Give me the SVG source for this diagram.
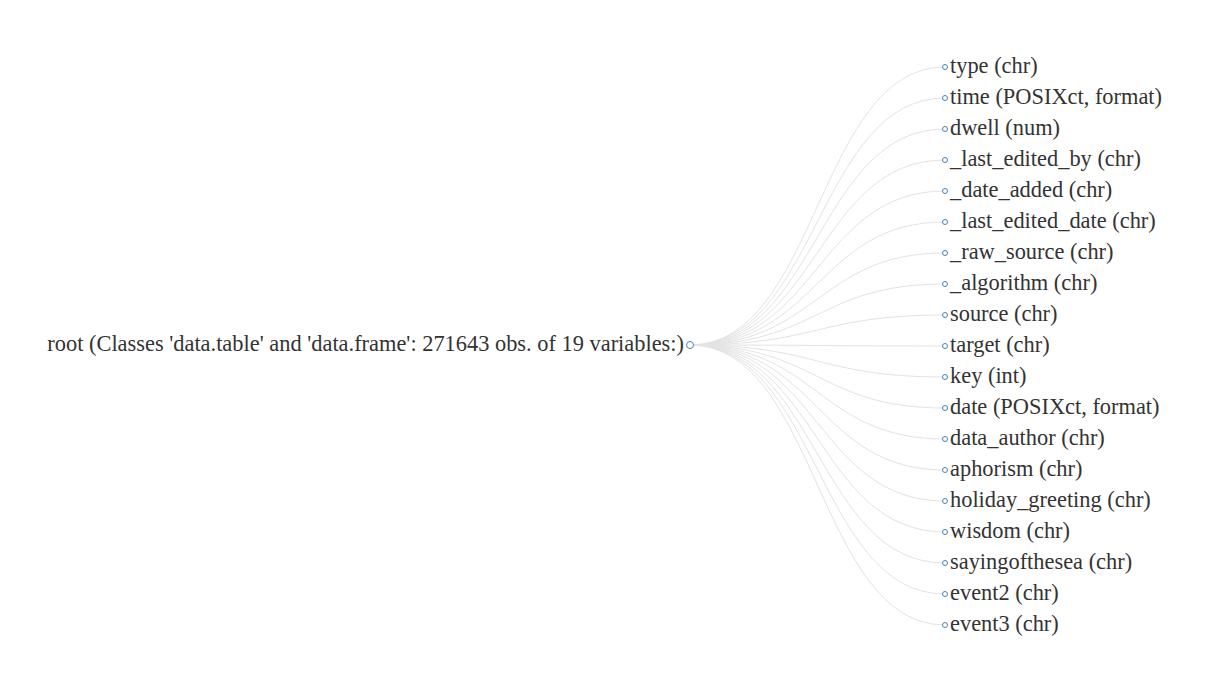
<svg xmlns="http://www.w3.org/2000/svg" width="1210" height="677" viewBox="0 0 1210 677">
<style>
.link{fill:none;stroke:#e3e3e3;stroke-width:1}
.node circle{fill:#fff;stroke:#4682b4;stroke-width:1}
.node text{font-family:"Liberation Serif","Times New Roman",serif;font-size:22.4px;fill:#333}
</style>
<rect width="1210" height="677" fill="#fff"/>
<g id="links">
<path class="link" d="M690,345C817.5,345 817.5,67 945,67"/>
<path class="link" d="M690,345C817.5,345 817.5,98 945,98"/>
<path class="link" d="M690,345C817.5,345 817.5,129 945,129"/>
<path class="link" d="M690,345C817.5,345 817.5,160 945,160"/>
<path class="link" d="M690,345C817.5,345 817.5,191 945,191"/>
<path class="link" d="M690,345C817.5,345 817.5,222 945,222"/>
<path class="link" d="M690,345C817.5,345 817.5,253 945,253"/>
<path class="link" d="M690,345C817.5,345 817.5,284 945,284"/>
<path class="link" d="M690,345C817.5,345 817.5,315 945,315"/>
<path class="link" d="M690,345C817.5,345 817.5,346 945,346"/>
<path class="link" d="M690,345C817.5,345 817.5,377 945,377"/>
<path class="link" d="M690,345C817.5,345 817.5,408 945,408"/>
<path class="link" d="M690,345C817.5,345 817.5,439 945,439"/>
<path class="link" d="M690,345C817.5,345 817.5,470 945,470"/>
<path class="link" d="M690,345C817.5,345 817.5,501 945,501"/>
<path class="link" d="M690,345C817.5,345 817.5,532 945,532"/>
<path class="link" d="M690,345C817.5,345 817.5,563 945,563"/>
<path class="link" d="M690,345C817.5,345 817.5,594 945,594"/>
<path class="link" d="M690,345C817.5,345 817.5,625 945,625"/>
</g>
<g id="root" class="node" transform="translate(690,345)"><circle r="3.5"/><text x="-6" dy="0.28em" text-anchor="end">root (Classes 'data.table' and 'data.frame': 271643 obs. of 19 variables:)</text></g>
<g id="n1" class="node" transform="translate(945,67)"><circle r="2.5"/><text x="5" dy="0.28em">type (chr)</text></g>
<g id="n2" class="node" transform="translate(945,98)"><circle r="2.5"/><text x="5" dy="0.28em">time (POSIXct, format)</text></g>
<g id="n3" class="node" transform="translate(945,129)"><circle r="2.5"/><text x="5" dy="0.28em">dwell (num)</text></g>
<g id="n4" class="node" transform="translate(945,160)"><circle r="2.5"/><text x="5" dy="0.28em">_last_edited_by (chr)</text></g>
<g id="n5" class="node" transform="translate(945,191)"><circle r="2.5"/><text x="5" dy="0.28em">_date_added (chr)</text></g>
<g id="n6" class="node" transform="translate(945,222)"><circle r="2.5"/><text x="5" dy="0.28em">_last_edited_date (chr)</text></g>
<g id="n7" class="node" transform="translate(945,253)"><circle r="2.5"/><text x="5" dy="0.28em">_raw_source (chr)</text></g>
<g id="n8" class="node" transform="translate(945,284)"><circle r="2.5"/><text x="5" dy="0.28em">_algorithm (chr)</text></g>
<g id="n9" class="node" transform="translate(945,315)"><circle r="2.5"/><text x="5" dy="0.28em">source (chr)</text></g>
<g id="n10" class="node" transform="translate(945,346)"><circle r="2.5"/><text x="5" dy="0.28em">target (chr)</text></g>
<g id="n11" class="node" transform="translate(945,377)"><circle r="2.5"/><text x="5" dy="0.28em">key (int)</text></g>
<g id="n12" class="node" transform="translate(945,408)"><circle r="2.5"/><text x="5" dy="0.28em">date (POSIXct, format)</text></g>
<g id="n13" class="node" transform="translate(945,439)"><circle r="2.5"/><text x="5" dy="0.28em">data_author (chr)</text></g>
<g id="n14" class="node" transform="translate(945,470)"><circle r="2.5"/><text x="5" dy="0.28em">aphorism (chr)</text></g>
<g id="n15" class="node" transform="translate(945,501)"><circle r="2.5"/><text x="5" dy="0.28em">holiday_greeting (chr)</text></g>
<g id="n16" class="node" transform="translate(945,532)"><circle r="2.5"/><text x="5" dy="0.28em">wisdom (chr)</text></g>
<g id="n17" class="node" transform="translate(945,563)"><circle r="2.5"/><text x="5" dy="0.28em">sayingofthesea (chr)</text></g>
<g id="n18" class="node" transform="translate(945,594)"><circle r="2.5"/><text x="5" dy="0.28em">event2 (chr)</text></g>
<g id="n19" class="node" transform="translate(945,625)"><circle r="2.5"/><text x="5" dy="0.28em">event3 (chr)</text></g>
</svg>
